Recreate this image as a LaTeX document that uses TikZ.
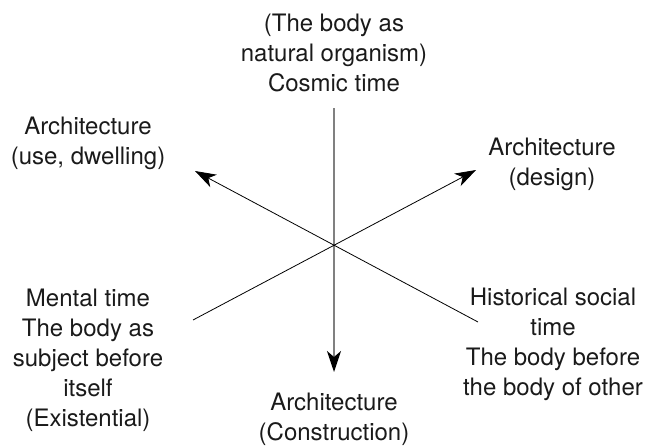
\documentclass[tikz,border=0pt]{standalone}
\usepackage{fontspec}
\setmainfont{TeX Gyre Heros}
\usetikzlibrary{arrows.meta}
\definecolor{txt}{HTML}{1A1A1A}
\tikzset{
  lbl/.style={align=center, inner sep=0pt, text=txt, font=\fontsize{24}{30}\selectfont},
  axis/.style={line width=0.8pt, black},
  vaxis/.style={line width=1.4pt, black!50},
  tip/.style={-{Stealth[length=21pt,width=14pt,inset=6pt,color=black]}}
}
\begin{document}
\begin{tikzpicture}[x=1pt,y=-1pt]
\useasboundingbox (0,0) rectangle (658,447);
\node[lbl] (top) at (334,53) {(The body as\\natural organism)\\Cosmic time};
\node[lbl] (ul) at (88,143) {Architecture\\(use, dwelling)};
\node[lbl] (ur) at (552,164) {Architecture\\(design)};
\node[lbl] (ll) at (88,360) {Mental time\\The body as\\subject before\\itself\\(Existential)};
\node[lbl] (lr) at (553,344) {Historical social\\time\\The body before\\the body of other};
\node[lbl] (bot) at (334,419) {Architecture\\(Construction)};
\coordinate (vtop) at (334,108);
\coordinate (vbot) at (334,372);
\coordinate (llend) at (193,320);
\coordinate (urtip) at (476,170);
\coordinate (lrend) at (478,322);
\coordinate (ultip) at (195,171);
\draw[vaxis,tip] (vtop) -- (vbot);
\draw[axis,tip] (llend) -- (urtip);
\draw[axis,tip] (lrend) -- (ultip);
\end{tikzpicture}
\end{document}
